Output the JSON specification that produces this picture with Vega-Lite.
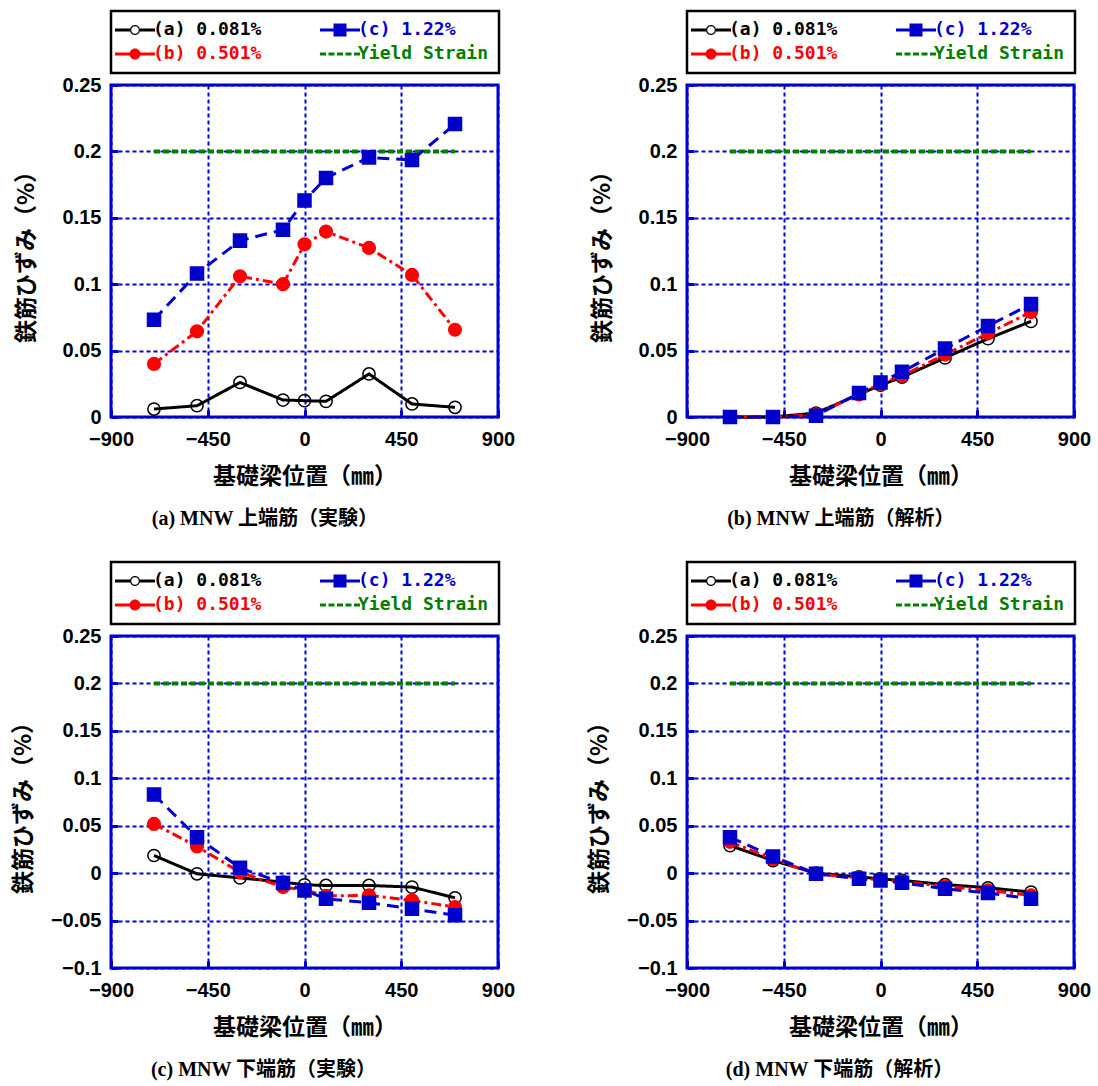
{
  "$schema": "https://vega.github.io/schema/vega-lite/v6.json",
  "background": "white",
  "padding": {"left": 10, "top": 8, "right": 5, "bottom": 5},
  "config": {
    "font": "Liberation Sans",
    "view": {"stroke": "#0000CC", "strokeWidth": 3},
    "axis": {
      "grid": true, "gridColor": "#0000DD", "gridDash": [4, 3], "gridWidth": 2, "gridOpacity": 1,
      "domain": false, "ticks": true, "tickSize": -7, "tickWidth": 3, "tickColor": "#0000CC", "labelFlush": false, "labelOverlap": false,
      "labelFont": "Liberation Sans", "labelFontWeight": "bold", "labelFontSize": 20, "labelColor": "black", "labelPadding": 17,
      "titleFont": "Noto Sans CJK JP", "titleFontWeight": "bold", "titleFontSize": 23, "titleColor": "black"
    },
    "axisX": {"titlePadding": 16, "labelPadding": 19},
    "axisY": {"titlePadding": 24},
    "legend": {
      "orient": "top", "columns": 2, "columnPadding": 58, "rowPadding": 6, "padding": 10, "offset": 12,
      "strokeColor": "black", "strokeWidth": 2.5, "fillColor": "white",
      "symbolSize": 100, "symbolOffset": 5, "labelOffset": 9,
      "labelFont": "DejaVu Sans Mono", "labelFontWeight": "bold", "labelFontSize": 18, "labelLimit": 300
    },
    "title": {"orient": "bottom", "frame": "bounds", "font": "Liberation Serif, Noto Sans CJK JP", "fontSize": 20, "fontWeight": "bold", "color": "black", "offset": 21, "anchor": "middle"}
  },
  "datasets": {
    "d": [
      {"p": "a", "s": "Yield Strain", "x": -700, "y": 0.2}, {"p": "a", "s": "Yield Strain", "x": 700, "y": 0.2},
      {"p": "b", "s": "Yield Strain", "x": -700, "y": 0.2}, {"p": "b", "s": "Yield Strain", "x": 700, "y": 0.2},
      {"p": "c", "s": "Yield Strain", "x": -700, "y": 0.2}, {"p": "c", "s": "Yield Strain", "x": 700, "y": 0.2},
      {"p": "d", "s": "Yield Strain", "x": -700, "y": 0.2}, {"p": "d", "s": "Yield Strain", "x": 700, "y": 0.2},

      {"p": "a", "s": "(a) 0.081%", "x": -700, "y": 0.006}, {"p": "a", "s": "(a) 0.081%", "x": -500, "y": 0.0085},
      {"p": "a", "s": "(a) 0.081%", "x": -300, "y": 0.026}, {"p": "a", "s": "(a) 0.081%", "x": -100, "y": 0.0128},
      {"p": "a", "s": "(a) 0.081%", "x": 0, "y": 0.0123}, {"p": "a", "s": "(a) 0.081%", "x": 100, "y": 0.0118},
      {"p": "a", "s": "(a) 0.081%", "x": 300, "y": 0.0324}, {"p": "a", "s": "(a) 0.081%", "x": 500, "y": 0.0098},
      {"p": "a", "s": "(a) 0.081%", "x": 700, "y": 0.0073},
      {"p": "a", "s": "(b) 0.501%", "x": -700, "y": 0.04}, {"p": "a", "s": "(b) 0.501%", "x": -500, "y": 0.0645},
      {"p": "a", "s": "(b) 0.501%", "x": -300, "y": 0.106}, {"p": "a", "s": "(b) 0.501%", "x": -100, "y": 0.1},
      {"p": "a", "s": "(b) 0.501%", "x": 0, "y": 0.13}, {"p": "a", "s": "(b) 0.501%", "x": 100, "y": 0.1396},
      {"p": "a", "s": "(b) 0.501%", "x": 300, "y": 0.1273}, {"p": "a", "s": "(b) 0.501%", "x": 500, "y": 0.107},
      {"p": "a", "s": "(b) 0.501%", "x": 700, "y": 0.0657},
      {"p": "a", "s": "(c) 1.22%", "x": -700, "y": 0.0733}, {"p": "a", "s": "(c) 1.22%", "x": -500, "y": 0.108},
      {"p": "a", "s": "(c) 1.22%", "x": -300, "y": 0.1328}, {"p": "a", "s": "(c) 1.22%", "x": -100, "y": 0.141},
      {"p": "a", "s": "(c) 1.22%", "x": 0, "y": 0.163}, {"p": "a", "s": "(c) 1.22%", "x": 100, "y": 0.18},
      {"p": "a", "s": "(c) 1.22%", "x": 300, "y": 0.1955}, {"p": "a", "s": "(c) 1.22%", "x": 500, "y": 0.1935},
      {"p": "a", "s": "(c) 1.22%", "x": 700, "y": 0.2206},

      {"p": "b", "s": "(a) 0.081%", "x": -700, "y": 0}, {"p": "b", "s": "(a) 0.081%", "x": -500, "y": 0},
      {"p": "b", "s": "(a) 0.081%", "x": -300, "y": 0.003}, {"p": "b", "s": "(a) 0.081%", "x": -100, "y": 0.017},
      {"p": "b", "s": "(a) 0.081%", "x": 0, "y": 0.024}, {"p": "b", "s": "(a) 0.081%", "x": 100, "y": 0.03},
      {"p": "b", "s": "(a) 0.081%", "x": 300, "y": 0.0445}, {"p": "b", "s": "(a) 0.081%", "x": 500, "y": 0.059},
      {"p": "b", "s": "(a) 0.081%", "x": 700, "y": 0.072},
      {"p": "b", "s": "(b) 0.501%", "x": -700, "y": 0}, {"p": "b", "s": "(b) 0.501%", "x": -500, "y": 0},
      {"p": "b", "s": "(b) 0.501%", "x": -300, "y": 0.002}, {"p": "b", "s": "(b) 0.501%", "x": -100, "y": 0.017},
      {"p": "b", "s": "(b) 0.501%", "x": 0, "y": 0.025}, {"p": "b", "s": "(b) 0.501%", "x": 100, "y": 0.031},
      {"p": "b", "s": "(b) 0.501%", "x": 300, "y": 0.047}, {"p": "b", "s": "(b) 0.501%", "x": 500, "y": 0.063},
      {"p": "b", "s": "(b) 0.501%", "x": 700, "y": 0.079},
      {"p": "b", "s": "(c) 1.22%", "x": -700, "y": 0}, {"p": "b", "s": "(c) 1.22%", "x": -500, "y": 0},
      {"p": "b", "s": "(c) 1.22%", "x": -300, "y": 0.001}, {"p": "b", "s": "(c) 1.22%", "x": -100, "y": 0.018},
      {"p": "b", "s": "(c) 1.22%", "x": 0, "y": 0.026}, {"p": "b", "s": "(c) 1.22%", "x": 100, "y": 0.034},
      {"p": "b", "s": "(c) 1.22%", "x": 300, "y": 0.0515}, {"p": "b", "s": "(c) 1.22%", "x": 500, "y": 0.0686},
      {"p": "b", "s": "(c) 1.22%", "x": 700, "y": 0.085},

      {"p": "c", "s": "(a) 0.081%", "x": -700, "y": 0.0186}, {"p": "c", "s": "(a) 0.081%", "x": -500, "y": -0.0007},
      {"p": "c", "s": "(a) 0.081%", "x": -300, "y": -0.005}, {"p": "c", "s": "(a) 0.081%", "x": -100, "y": -0.0095},
      {"p": "c", "s": "(a) 0.081%", "x": 0, "y": -0.0123}, {"p": "c", "s": "(a) 0.081%", "x": 100, "y": -0.013},
      {"p": "c", "s": "(a) 0.081%", "x": 300, "y": -0.013}, {"p": "c", "s": "(a) 0.081%", "x": 500, "y": -0.0147},
      {"p": "c", "s": "(a) 0.081%", "x": 700, "y": -0.026},
      {"p": "c", "s": "(b) 0.501%", "x": -700, "y": 0.0519}, {"p": "c", "s": "(b) 0.501%", "x": -500, "y": 0.0281},
      {"p": "c", "s": "(b) 0.501%", "x": -300, "y": 0.001}, {"p": "c", "s": "(b) 0.501%", "x": -100, "y": -0.0147},
      {"p": "c", "s": "(b) 0.501%", "x": 0, "y": -0.0176}, {"p": "c", "s": "(b) 0.501%", "x": 100, "y": -0.024},
      {"p": "c", "s": "(b) 0.501%", "x": 300, "y": -0.0235}, {"p": "c", "s": "(b) 0.501%", "x": 500, "y": -0.0287},
      {"p": "c", "s": "(b) 0.501%", "x": 700, "y": -0.0358},
      {"p": "c", "s": "(c) 1.22%", "x": -700, "y": 0.0828}, {"p": "c", "s": "(c) 1.22%", "x": -500, "y": 0.0379},
      {"p": "c", "s": "(c) 1.22%", "x": -300, "y": 0.0056}, {"p": "c", "s": "(c) 1.22%", "x": -100, "y": -0.0105},
      {"p": "c", "s": "(c) 1.22%", "x": 0, "y": -0.0182}, {"p": "c", "s": "(c) 1.22%", "x": 100, "y": -0.027},
      {"p": "c", "s": "(c) 1.22%", "x": 300, "y": -0.0313}, {"p": "c", "s": "(c) 1.22%", "x": 500, "y": -0.0376},
      {"p": "c", "s": "(c) 1.22%", "x": 700, "y": -0.0445},

      {"p": "d", "s": "(a) 0.081%", "x": -700, "y": 0.029}, {"p": "d", "s": "(a) 0.081%", "x": -500, "y": 0.0133},
      {"p": "d", "s": "(a) 0.081%", "x": -300, "y": 0}, {"p": "d", "s": "(a) 0.081%", "x": -100, "y": -0.004},
      {"p": "d", "s": "(a) 0.081%", "x": 0, "y": -0.006}, {"p": "d", "s": "(a) 0.081%", "x": 100, "y": -0.0077},
      {"p": "d", "s": "(a) 0.081%", "x": 300, "y": -0.012}, {"p": "d", "s": "(a) 0.081%", "x": 500, "y": -0.0154},
      {"p": "d", "s": "(a) 0.081%", "x": 700, "y": -0.02},
      {"p": "d", "s": "(b) 0.501%", "x": -700, "y": 0.033}, {"p": "d", "s": "(b) 0.501%", "x": -500, "y": 0.015},
      {"p": "d", "s": "(b) 0.501%", "x": -300, "y": -0.001}, {"p": "d", "s": "(b) 0.501%", "x": -100, "y": -0.005},
      {"p": "d", "s": "(b) 0.501%", "x": 0, "y": -0.007}, {"p": "d", "s": "(b) 0.501%", "x": 100, "y": -0.009},
      {"p": "d", "s": "(b) 0.501%", "x": 300, "y": -0.014}, {"p": "d", "s": "(b) 0.501%", "x": 500, "y": -0.018},
      {"p": "d", "s": "(b) 0.501%", "x": 700, "y": -0.0235},
      {"p": "d", "s": "(c) 1.22%", "x": -700, "y": 0.0379}, {"p": "d", "s": "(c) 1.22%", "x": -500, "y": 0.0176},
      {"p": "d", "s": "(c) 1.22%", "x": -300, "y": -0.0007}, {"p": "d", "s": "(c) 1.22%", "x": -100, "y": -0.006},
      {"p": "d", "s": "(c) 1.22%", "x": 0, "y": -0.0077}, {"p": "d", "s": "(c) 1.22%", "x": 100, "y": -0.0102},
      {"p": "d", "s": "(c) 1.22%", "x": 300, "y": -0.0165}, {"p": "d", "s": "(c) 1.22%", "x": 500, "y": -0.021},
      {"p": "d", "s": "(c) 1.22%", "x": 700, "y": -0.027}
    ]
  },
  "data": {"name": "d"},
  "columns": 2,
  "spacing": {"column": 69, "row": 28},
  "resolve": {
    "scale": {"x": "independent", "y": "independent", "color": "independent", "strokeDash": "independent", "fill": "independent", "stroke": "independent", "shape": "independent", "size": "independent"},
    "legend": {"color": "independent"}
  },
  "concat": [
    {
      "width": 387, "height": 332,
      "title": "(a) MNW 上端筋（実験）",
      "transform": [{"filter": "datum.p === 'a'"}],
      "encoding": {
        "x": {"field": "x", "type": "quantitative", "scale": {"domain": [-900, 900], "nice": false, "zero": false}, "axis": {"values": [-900, -450, 0, 450, 900], "title": "基礎梁位置（㎜）"}},
        "y": {"field": "y", "type": "quantitative", "scale": {"domain": [0, 0.25], "nice": false}, "axis": {"values": [0, 0.05, 0.1, 0.15, 0.2, 0.25], "title": "鉄筋ひずみ（%）", "titlePadding": 24, "labelExpr": "format(datum.value, '.2~f')"}}
      },
      "layer": [
        {
          "transform": [{"filter": "datum.s === 'Yield Strain'"}],
          "mark": {"type": "line", "strokeWidth": 4, "strokeDash": [6, 3]},
          "encoding": {
            "color": {"field": "s", "type": "nominal", "scale": {"domain": ["(a) 0.081%", "(c) 1.22%", "(b) 0.501%", "Yield Strain"], "range": ["black", "#0000CC", "#FF0000", "#008000"]},
              "legend": {"title": null, "encode": {
                "labels": {"update": {"fill": {"signal": "datum.value === '(a) 0.081%' ? 'black' : datum.value === '(b) 0.501%' ? '#FF0000' : datum.value === '(c) 1.22%' ? '#0000CC' : '#008000'"}}},
                "symbols": {"update": {
                  "fill": {"signal": "datum.value === '(a) 0.081%' ? 'black' : datum.value === '(b) 0.501%' ? '#FF0000' : datum.value === '(c) 1.22%' ? '#0000CC' : '#008000'"},
                  "stroke": {"value": "transparent"}, "strokeWidth": {"value": 0}, "opacity": {"value": 1}, "fillOpacity": {"value": 1},
                  "shape": {"signal": "datum.value === '(a) 0.081%' ? 'M-4,-0.3H-1V0.3H-4ZM1,-0.3H4V0.3H1ZM1,0A1,1,0,1,1,-1,0A1,1,0,1,1,1,0ZM0.75,0A0.75,0.75,0,1,0,-0.75,0A0.75,0.75,0,1,0,0.75,0Z' : datum.value === '(b) 0.501%' ? 'M-4,-0.3H4V0.3H-4ZM1.1,0A1.1,1.1,0,1,1,-1.1,0A1.1,1.1,0,1,1,1.1,0Z' : datum.value === '(c) 1.22%' ? 'M-4,-0.3H4V0.3H-4ZM-1.3,-1.3H1.3V1.3H-1.3Z' : 'M-4,-0.3H-2.8V0.3H-4ZM-2.3,-0.3H-1.1V0.3H-2.3ZM-0.6,-0.3H0.6V0.3H-0.6ZM1.1,-0.3H2.3V0.3H1.1ZM2.8,-0.3H4V0.3H2.8Z'"}
                }}
              }}}
          }
        },
        {
          "transform": [{"filter": "datum.s !== 'Yield Strain'"}],
          "mark": {"type": "line", "strokeWidth": 3},
          "encoding": {
            "color": {"field": "s", "type": "nominal", "scale": {"domain": ["(a) 0.081%", "(c) 1.22%", "(b) 0.501%", "Yield Strain"], "range": ["black", "#0000CC", "#FF0000", "#008000"]}},
            "strokeDash": {"field": "s", "type": "nominal", "scale": {"domain": ["(a) 0.081%", "(b) 0.501%", "(c) 1.22%"], "range": [[1, 0], [10, 4, 3, 4], [12, 7]]}, "legend": null}
          }
        },
        {
          "transform": [{"filter": "datum.s !== 'Yield Strain'"}],
          "mark": {"type": "point", "strokeWidth": 1.5, "opacity": 1},
          "encoding": {
            "shape": {"field": "s", "type": "nominal", "scale": {"domain": ["(a) 0.081%", "(b) 0.501%", "(c) 1.22%"], "range": ["circle", "circle", "square"]}, "legend": null},
            "fill": {"field": "s", "type": "nominal", "scale": {"domain": ["(a) 0.081%", "(b) 0.501%", "(c) 1.22%"], "range": ["transparent", "#FF0000", "#0000CC"]}, "legend": null},
            "stroke": {"field": "s", "type": "nominal", "scale": {"domain": ["(a) 0.081%", "(b) 0.501%", "(c) 1.22%"], "range": ["black", "#FF0000", "#0000CC"]}, "legend": null},
            "size": {"field": "s", "type": "nominal", "scale": {"domain": ["(a) 0.081%", "(b) 0.501%", "(c) 1.22%"], "range": [150, 170, 196]}, "legend": null}
          }
        }
      ]
    },
    {
      "width": 387, "height": 332,
      "title": "(b) MNW 上端筋（解析）",
      "transform": [{"filter": "datum.p === 'b'"}],
      "encoding": {
        "x": {"field": "x", "type": "quantitative", "scale": {"domain": [-900, 900], "nice": false, "zero": false}, "axis": {"values": [-900, -450, 0, 450, 900], "title": "基礎梁位置（㎜）"}},
        "y": {"field": "y", "type": "quantitative", "scale": {"domain": [0, 0.25], "nice": false}, "axis": {"values": [0, 0.05, 0.1, 0.15, 0.2, 0.25], "title": "鉄筋ひずみ（%）", "titlePadding": 24, "labelExpr": "format(datum.value, '.2~f')"}}
      },
      "layer": [
        {
          "transform": [{"filter": "datum.s === 'Yield Strain'"}],
          "mark": {"type": "line", "strokeWidth": 4, "strokeDash": [6, 3]},
          "encoding": {
            "color": {"field": "s", "type": "nominal", "scale": {"domain": ["(a) 0.081%", "(c) 1.22%", "(b) 0.501%", "Yield Strain"], "range": ["black", "#0000CC", "#FF0000", "#008000"]},
              "legend": {"title": null, "encode": {
                "labels": {"update": {"fill": {"signal": "datum.value === '(a) 0.081%' ? 'black' : datum.value === '(b) 0.501%' ? '#FF0000' : datum.value === '(c) 1.22%' ? '#0000CC' : '#008000'"}}},
                "symbols": {"update": {
                  "fill": {"signal": "datum.value === '(a) 0.081%' ? 'black' : datum.value === '(b) 0.501%' ? '#FF0000' : datum.value === '(c) 1.22%' ? '#0000CC' : '#008000'"},
                  "stroke": {"value": "transparent"}, "strokeWidth": {"value": 0}, "opacity": {"value": 1}, "fillOpacity": {"value": 1},
                  "shape": {"signal": "datum.value === '(a) 0.081%' ? 'M-4,-0.3H-1V0.3H-4ZM1,-0.3H4V0.3H1ZM1,0A1,1,0,1,1,-1,0A1,1,0,1,1,1,0ZM0.75,0A0.75,0.75,0,1,0,-0.75,0A0.75,0.75,0,1,0,0.75,0Z' : datum.value === '(b) 0.501%' ? 'M-4,-0.3H4V0.3H-4ZM1.1,0A1.1,1.1,0,1,1,-1.1,0A1.1,1.1,0,1,1,1.1,0Z' : datum.value === '(c) 1.22%' ? 'M-4,-0.3H4V0.3H-4ZM-1.3,-1.3H1.3V1.3H-1.3Z' : 'M-4,-0.3H-2.8V0.3H-4ZM-2.3,-0.3H-1.1V0.3H-2.3ZM-0.6,-0.3H0.6V0.3H-0.6ZM1.1,-0.3H2.3V0.3H1.1ZM2.8,-0.3H4V0.3H2.8Z'"}
                }}
              }}}
          }
        },
        {
          "transform": [{"filter": "datum.s !== 'Yield Strain'"}],
          "mark": {"type": "line", "strokeWidth": 3},
          "encoding": {
            "color": {"field": "s", "type": "nominal", "scale": {"domain": ["(a) 0.081%", "(c) 1.22%", "(b) 0.501%", "Yield Strain"], "range": ["black", "#0000CC", "#FF0000", "#008000"]}},
            "strokeDash": {"field": "s", "type": "nominal", "scale": {"domain": ["(a) 0.081%", "(b) 0.501%", "(c) 1.22%"], "range": [[1, 0], [10, 4, 3, 4], [12, 7]]}, "legend": null}
          }
        },
        {
          "transform": [{"filter": "datum.s !== 'Yield Strain'"}],
          "mark": {"type": "point", "strokeWidth": 1.5, "opacity": 1},
          "encoding": {
            "shape": {"field": "s", "type": "nominal", "scale": {"domain": ["(a) 0.081%", "(b) 0.501%", "(c) 1.22%"], "range": ["circle", "circle", "square"]}, "legend": null},
            "fill": {"field": "s", "type": "nominal", "scale": {"domain": ["(a) 0.081%", "(b) 0.501%", "(c) 1.22%"], "range": ["transparent", "#FF0000", "#0000CC"]}, "legend": null},
            "stroke": {"field": "s", "type": "nominal", "scale": {"domain": ["(a) 0.081%", "(b) 0.501%", "(c) 1.22%"], "range": ["black", "#FF0000", "#0000CC"]}, "legend": null},
            "size": {"field": "s", "type": "nominal", "scale": {"domain": ["(a) 0.081%", "(b) 0.501%", "(c) 1.22%"], "range": [150, 170, 196]}, "legend": null}
          }
        }
      ]
    },
    {
      "width": 387, "height": 332,
      "title": "(c) MNW 下端筋（実験）",
      "transform": [{"filter": "datum.p === 'c'"}],
      "encoding": {
        "x": {"field": "x", "type": "quantitative", "scale": {"domain": [-900, 900], "nice": false, "zero": false}, "axis": {"values": [-900, -450, 0, 450, 900], "title": "基礎梁位置（㎜）"}},
        "y": {"field": "y", "type": "quantitative", "scale": {"domain": [-0.1, 0.25], "nice": false}, "axis": {"values": [-0.1, -0.05, 0, 0.05, 0.1, 0.15, 0.2, 0.25], "title": "鉄筋ひずみ（%）", "titlePadding": 15, "labelExpr": "format(datum.value, '.2~f')"}}
      },
      "layer": [
        {
          "transform": [{"filter": "datum.s === 'Yield Strain'"}],
          "mark": {"type": "line", "strokeWidth": 4, "strokeDash": [6, 3]},
          "encoding": {
            "color": {"field": "s", "type": "nominal", "scale": {"domain": ["(a) 0.081%", "(c) 1.22%", "(b) 0.501%", "Yield Strain"], "range": ["black", "#0000CC", "#FF0000", "#008000"]},
              "legend": {"title": null, "encode": {
                "labels": {"update": {"fill": {"signal": "datum.value === '(a) 0.081%' ? 'black' : datum.value === '(b) 0.501%' ? '#FF0000' : datum.value === '(c) 1.22%' ? '#0000CC' : '#008000'"}}},
                "symbols": {"update": {
                  "fill": {"signal": "datum.value === '(a) 0.081%' ? 'black' : datum.value === '(b) 0.501%' ? '#FF0000' : datum.value === '(c) 1.22%' ? '#0000CC' : '#008000'"},
                  "stroke": {"value": "transparent"}, "strokeWidth": {"value": 0}, "opacity": {"value": 1}, "fillOpacity": {"value": 1},
                  "shape": {"signal": "datum.value === '(a) 0.081%' ? 'M-4,-0.3H-1V0.3H-4ZM1,-0.3H4V0.3H1ZM1,0A1,1,0,1,1,-1,0A1,1,0,1,1,1,0ZM0.75,0A0.75,0.75,0,1,0,-0.75,0A0.75,0.75,0,1,0,0.75,0Z' : datum.value === '(b) 0.501%' ? 'M-4,-0.3H4V0.3H-4ZM1.1,0A1.1,1.1,0,1,1,-1.1,0A1.1,1.1,0,1,1,1.1,0Z' : datum.value === '(c) 1.22%' ? 'M-4,-0.3H4V0.3H-4ZM-1.3,-1.3H1.3V1.3H-1.3Z' : 'M-4,-0.3H-2.8V0.3H-4ZM-2.3,-0.3H-1.1V0.3H-2.3ZM-0.6,-0.3H0.6V0.3H-0.6ZM1.1,-0.3H2.3V0.3H1.1ZM2.8,-0.3H4V0.3H2.8Z'"}
                }}
              }}}
          }
        },
        {
          "transform": [{"filter": "datum.s !== 'Yield Strain'"}],
          "mark": {"type": "line", "strokeWidth": 3},
          "encoding": {
            "color": {"field": "s", "type": "nominal", "scale": {"domain": ["(a) 0.081%", "(c) 1.22%", "(b) 0.501%", "Yield Strain"], "range": ["black", "#0000CC", "#FF0000", "#008000"]}},
            "strokeDash": {"field": "s", "type": "nominal", "scale": {"domain": ["(a) 0.081%", "(b) 0.501%", "(c) 1.22%"], "range": [[1, 0], [10, 4, 3, 4], [12, 7]]}, "legend": null}
          }
        },
        {
          "transform": [{"filter": "datum.s !== 'Yield Strain'"}],
          "mark": {"type": "point", "strokeWidth": 1.5, "opacity": 1},
          "encoding": {
            "shape": {"field": "s", "type": "nominal", "scale": {"domain": ["(a) 0.081%", "(b) 0.501%", "(c) 1.22%"], "range": ["circle", "circle", "square"]}, "legend": null},
            "fill": {"field": "s", "type": "nominal", "scale": {"domain": ["(a) 0.081%", "(b) 0.501%", "(c) 1.22%"], "range": ["transparent", "#FF0000", "#0000CC"]}, "legend": null},
            "stroke": {"field": "s", "type": "nominal", "scale": {"domain": ["(a) 0.081%", "(b) 0.501%", "(c) 1.22%"], "range": ["black", "#FF0000", "#0000CC"]}, "legend": null},
            "size": {"field": "s", "type": "nominal", "scale": {"domain": ["(a) 0.081%", "(b) 0.501%", "(c) 1.22%"], "range": [150, 170, 196]}, "legend": null}
          }
        }
      ]
    },
    {
      "width": 387, "height": 332,
      "title": "(d) MNW 下端筋（解析）",
      "transform": [{"filter": "datum.p === 'd'"}],
      "encoding": {
        "x": {"field": "x", "type": "quantitative", "scale": {"domain": [-900, 900], "nice": false, "zero": false}, "axis": {"values": [-900, -450, 0, 450, 900], "title": "基礎梁位置（㎜）"}},
        "y": {"field": "y", "type": "quantitative", "scale": {"domain": [-0.1, 0.25], "nice": false}, "axis": {"values": [-0.1, -0.05, 0, 0.05, 0.1, 0.15, 0.2, 0.25], "title": "鉄筋ひずみ（%）", "titlePadding": 15, "labelExpr": "format(datum.value, '.2~f')"}}
      },
      "layer": [
        {
          "transform": [{"filter": "datum.s === 'Yield Strain'"}],
          "mark": {"type": "line", "strokeWidth": 4, "strokeDash": [6, 3]},
          "encoding": {
            "color": {"field": "s", "type": "nominal", "scale": {"domain": ["(a) 0.081%", "(c) 1.22%", "(b) 0.501%", "Yield Strain"], "range": ["black", "#0000CC", "#FF0000", "#008000"]},
              "legend": {"title": null, "encode": {
                "labels": {"update": {"fill": {"signal": "datum.value === '(a) 0.081%' ? 'black' : datum.value === '(b) 0.501%' ? '#FF0000' : datum.value === '(c) 1.22%' ? '#0000CC' : '#008000'"}}},
                "symbols": {"update": {
                  "fill": {"signal": "datum.value === '(a) 0.081%' ? 'black' : datum.value === '(b) 0.501%' ? '#FF0000' : datum.value === '(c) 1.22%' ? '#0000CC' : '#008000'"},
                  "stroke": {"value": "transparent"}, "strokeWidth": {"value": 0}, "opacity": {"value": 1}, "fillOpacity": {"value": 1},
                  "shape": {"signal": "datum.value === '(a) 0.081%' ? 'M-4,-0.3H-1V0.3H-4ZM1,-0.3H4V0.3H1ZM1,0A1,1,0,1,1,-1,0A1,1,0,1,1,1,0ZM0.75,0A0.75,0.75,0,1,0,-0.75,0A0.75,0.75,0,1,0,0.75,0Z' : datum.value === '(b) 0.501%' ? 'M-4,-0.3H4V0.3H-4ZM1.1,0A1.1,1.1,0,1,1,-1.1,0A1.1,1.1,0,1,1,1.1,0Z' : datum.value === '(c) 1.22%' ? 'M-4,-0.3H4V0.3H-4ZM-1.3,-1.3H1.3V1.3H-1.3Z' : 'M-4,-0.3H-2.8V0.3H-4ZM-2.3,-0.3H-1.1V0.3H-2.3ZM-0.6,-0.3H0.6V0.3H-0.6ZM1.1,-0.3H2.3V0.3H1.1ZM2.8,-0.3H4V0.3H2.8Z'"}
                }}
              }}}
          }
        },
        {
          "transform": [{"filter": "datum.s !== 'Yield Strain'"}],
          "mark": {"type": "line", "strokeWidth": 3},
          "encoding": {
            "color": {"field": "s", "type": "nominal", "scale": {"domain": ["(a) 0.081%", "(c) 1.22%", "(b) 0.501%", "Yield Strain"], "range": ["black", "#0000CC", "#FF0000", "#008000"]}},
            "strokeDash": {"field": "s", "type": "nominal", "scale": {"domain": ["(a) 0.081%", "(b) 0.501%", "(c) 1.22%"], "range": [[1, 0], [10, 4, 3, 4], [12, 7]]}, "legend": null}
          }
        },
        {
          "transform": [{"filter": "datum.s !== 'Yield Strain'"}],
          "mark": {"type": "point", "strokeWidth": 1.5, "opacity": 1},
          "encoding": {
            "shape": {"field": "s", "type": "nominal", "scale": {"domain": ["(a) 0.081%", "(b) 0.501%", "(c) 1.22%"], "range": ["circle", "circle", "square"]}, "legend": null},
            "fill": {"field": "s", "type": "nominal", "scale": {"domain": ["(a) 0.081%", "(b) 0.501%", "(c) 1.22%"], "range": ["transparent", "#FF0000", "#0000CC"]}, "legend": null},
            "stroke": {"field": "s", "type": "nominal", "scale": {"domain": ["(a) 0.081%", "(b) 0.501%", "(c) 1.22%"], "range": ["black", "#FF0000", "#0000CC"]}, "legend": null},
            "size": {"field": "s", "type": "nominal", "scale": {"domain": ["(a) 0.081%", "(b) 0.501%", "(c) 1.22%"], "range": [150, 170, 196]}, "legend": null}
          }
        }
      ]
    }
  ]
}
